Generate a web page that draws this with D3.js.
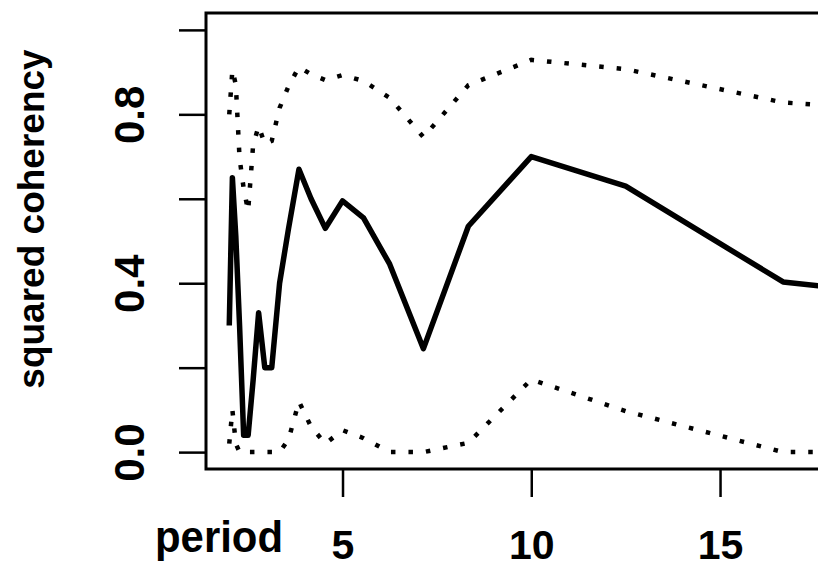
<!DOCTYPE html>
<html><head><meta charset="utf-8">
<script src="https://cdnjs.cloudflare.com/ajax/libs/d3/7.8.5/d3.min.js"></script>
<style>body{margin:0;background:#fff}svg{display:block}</style>
</head><body>
<script>
// period = 50/k
const periods = [2.000, 2.083, 2.174, 2.273, 2.381, 2.500, 2.632, 2.778, 2.941, 3.125, 3.333, 3.571, 3.846, 4.167, 4.545, 5.000, 5.556, 6.250, 7.143, 8.333, 10.00, 12.50, 16.67, 25.00];
const coherency = [0.30, 0.65, 0.51, 0.30, 0.04, 0.04, 0.17, 0.33, 0.20, 0.20, 0.40, 0.53, 0.67, 0.60, 0.53, 0.595, 0.555, 0.445, 0.245, 0.535, 0.70, 0.63, 0.403, 0.32];
const upperBand = [0.80, 0.905, 0.87, 0.696, 0.625, 0.571, 0.727, 0.772, 0.73, 0.737, 0.815, 0.867, 0.912, 0.895, 0.881, 0.893, 0.879, 0.839, 0.746, 0.869, 0.929, 0.907, 0.828, 0.78];
const lowerBand = [0.02, 0.10, 0.02, 0.0, 0.0, 0.0, 0.0, 0.0, 0.0, 0.0, 0.0, 0.03, 0.12, 0.06, 0.02, 0.052, 0.033, 0.0, 0.0, 0.022, 0.172, 0.097, 0.0, 0.0];
const xTicks = [5, 10, 15];
const yTicks = [0, 0.2, 0.4, 0.6, 0.8, 1.0];
const yTickLabels = ["0.0", "", "0.4", "", "0.8", ""];
const xLabel = "period";
const yLabel = "squared coherency";

const W = 818, H = 567;
const box = {left: 206, top: 13, bottom: 469, right: 833.3};
const x = d3.scaleLinear().domain([1.384, 18.0]).range([box.left, box.right]);
const y = d3.scaleLinear().domain([-0.04, 1.04]).range([box.bottom, box.top]);

const svg = d3.select("body").append("svg").attr("width", W).attr("height", H);
svg.append("defs").append("clipPath").attr("id", "plotclip")
  .append("rect").attr("x", box.left).attr("y", box.top)
  .attr("width", box.right - box.left).attr("height", box.bottom - box.top);

const font = "'Liberation Sans', Arial, Helvetica, sans-serif";

// axes
const xAxis = d3.axisBottom(x).tickValues(xTicks).tickSize(28).tickFormat(d3.format("d"));
const gx = svg.append("g").attr("transform", `translate(0,${box.bottom})`).call(xAxis);
gx.select(".domain").remove();
gx.selectAll(".tick line").attr("stroke", "#000").attr("stroke-width", 2.5);
gx.selectAll(".tick text").attr("font-family", font).attr("font-weight", "bold")
  .attr("font-size", 41).attr("fill", "#000").attr("dy", null).attr("y", 90);

const yAxis = d3.axisLeft(y).tickValues(yTicks).tickSize(27).tickFormat((d, i) => yTickLabels[i]);
const gy = svg.append("g").attr("transform", `translate(${box.left},0)`).call(yAxis);
gy.select(".domain").remove();
gy.selectAll(".tick line").attr("stroke", "#000").attr("stroke-width", 2.5);
gy.selectAll(".tick text").attr("font-family", font).attr("font-weight", "bold")
  .attr("font-size", 42).attr("fill", "#000")
  .attr("x", null).attr("dy", null).attr("text-anchor", "middle")
  .attr("transform", "translate(-62,0) rotate(-90)");

// frame
svg.append("path")
  .attr("d", `M${box.right},${box.top}H${box.left}V${box.bottom}H${box.right}`)
  .attr("fill", "none").attr("stroke", "#000").attr("stroke-width", 3);

// lines
const pts = (vals) => periods.map((p, i) => [p, vals[i]]);
const line = d3.line().x(d => x(d[0])).y(d => y(d[1]));
const g = svg.append("g").attr("clip-path", "url(#plotclip)");
[upperBand, lowerBand].forEach(vals => {
  g.append("path").attr("d", line(pts(vals))).attr("fill", "none")
    .attr("stroke", "#000").attr("stroke-width", 4.5).attr("stroke-dasharray", "4.5,13");
});
g.append("path").attr("d", line(pts(coherency))).attr("fill", "none")
  .attr("stroke", "#000").attr("stroke-width", 5.5).attr("stroke-linejoin", "round");

// axis titles
svg.append("text").text(xLabel).attr("x", 283).attr("y", 552)
  .attr("text-anchor", "end").attr("font-family", font).attr("font-weight", "bold")
  .attr("font-size", 45).attr("textLength", 128).attr("lengthAdjust", "spacingAndGlyphs");
svg.append("text").text(yLabel)
  .attr("transform", "translate(44,219) rotate(-90)")
  .attr("text-anchor", "middle").attr("font-family", font).attr("font-weight", "bold")
  .attr("font-size", 37);
</script>
</body></html>
